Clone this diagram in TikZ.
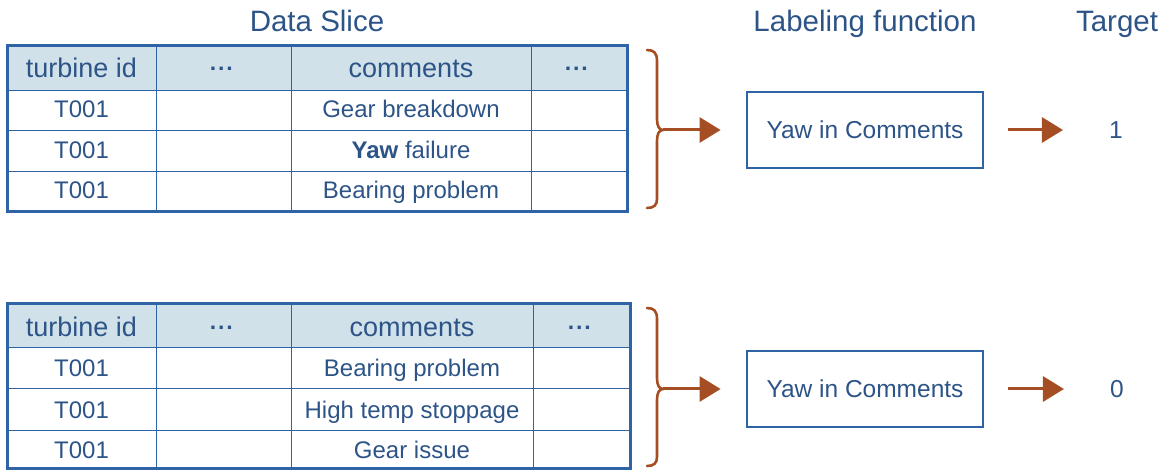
\documentclass[tikz,border=0pt]{standalone}
\usepackage{fontspec}
\setmainfont{Liberation Sans}
\usetikzlibrary{arrows.meta}

\definecolor{ink}{HTML}{2D5487}
\definecolor{rule}{HTML}{2E64A6}
\definecolor{headfill}{HTML}{D0E1EA}
\definecolor{rust}{HTML}{A64E23}

% row of three centred dots used in the header cells
\newcommand{\hdots}{{\fontsize{23}{23}\bfseries\selectfont\raisebox{1pt}{·\kern0.6pt·\kern0.6pt·}}}

\tikzset{
  title/.style={font=\fontsize{29.5}{30}\selectfont, text=ink, anchor=base, inner sep=0pt},
  headtxt/.style={font=\fontsize{27}{28}\selectfont, text=ink, anchor=base, inner sep=0pt},
  celltxt/.style={font=\fontsize{24}{25}\selectfont, text=ink, anchor=base, inner sep=0pt},
  outerrule/.style={draw=rule, line width=3pt},
  innerrule/.style={draw=rule, line width=1pt},
  lfbox/.style={draw=rule, line width=2.8pt, minimum width=236pt, minimum height=76pt,
                inner sep=0pt, font=\fontsize{24.5}{25}\selectfont, text=ink},
  target/.style={font=\fontsize{24.5}{25}\selectfont, text=ink, inner sep=0pt},
  brace/.style={draw=rust, line width=2.6pt, line cap=round},
  flow/.style={draw=rust, line width=3pt, -{Triangle[length=21pt,width=25pt]}},
}

\begin{document}
\begin{tikzpicture}[x=1pt, y=-1pt]
\useasboundingbox (0,0) rectangle (1168,470);

% column titles
\node[title] (ttlslice) at (317,32) {Data Slice};
\node[title] (ttllf) at (865,32) {Labeling function};
\node[title] (ttltarget) at (1117,32) {Target};

% ---------- first data slice ----------
\fill[headfill] (7,46) rectangle (627,91);
\draw[innerrule] (7,91) -- (627,91) (7,131) -- (627,131) (7,172) -- (627,172)
                 (156,46) -- (156,212) (291,46) -- (291,212) (531,46) -- (531,212);
\draw[outerrule] (7,46) rectangle (627,212);

\node[headtxt] (ah1) at (81.5,78) {turbine id};
\node[headtxt] (ah2) at (222,78) {\hdots};
\node[headtxt] (ah3) at (411,78) {comments};
\node[headtxt] (ah4) at (577,78) {\hdots};

\node[celltxt] (ar1a) at (81.5,118) {T001};
\node[celltxt] (ar1c) at (411,118) {Gear breakdown};
\node[celltxt] (ar2a) at (81.5,159) {T001};
\node[celltxt] (ar2c) at (411,159) {{\bfseries Yaw} failure};
\node[celltxt] (ar3a) at (81.5,199) {T001};
\node[celltxt] (ar3c) at (411,199) {Bearing problem};

% ---------- second data slice ----------
\fill[headfill] (7,304) rectangle (630,348);
\draw[innerrule] (7,348) -- (630,348) (7,389) -- (630,389) (7,430) -- (630,430)
                 (156,304) -- (156,468) (291,304) -- (291,468) (533,304) -- (533,468);
\draw[outerrule] (7,304) rectangle (630,468);

\node[headtxt] (bh1) at (81.5,337) {turbine id};
\node[headtxt] (bh2) at (222,337) {\hdots};
\node[headtxt] (bh3) at (412,337) {comments};
\node[headtxt] (bh4) at (580,337) {\hdots};

\node[celltxt] (br1a) at (81.5,377) {T001};
\node[celltxt] (br1c) at (412,377) {Bearing problem};
\node[celltxt] (br2a) at (81.5,418) {T001};
\node[celltxt] (br2c) at (412,418) {High temp stoppage};
\node[celltxt] (br3a) at (81.5,458) {T001};
\node[celltxt] (br3c) at (412,458) {Gear issue};

% ---------- braces ----------
\coordinate (bra) at (663,130);
\draw[brace] (647,50) .. controls (654,50) and (657,53) .. (657,61) -- (657,119)
  .. controls (657,126) and (659,130) .. (bra)
  .. controls (659,130) and (657,134) .. (657,141) -- (657,199)
  .. controls (657,205) and (654,208) .. (647,208);

\coordinate (brb) at (663,389);
\draw[brace] (647,308) .. controls (654,308) and (657,311) .. (657,319) -- (657,378)
  .. controls (657,385) and (659,389) .. (brb)
  .. controls (659,389) and (657,393) .. (657,400) -- (657,457)
  .. controls (657,463) and (654,466) .. (647,466);

% ---------- labeling functions and targets ----------
\node[lfbox] (lfa) at (865,130) {Yaw in Comments};
\node[target] (tga) at (1116,130) {1};
\node[lfbox] (lfb) at (865,389) {Yaw in Comments};
\node[target] (tgb) at (1117,389) {0};

\draw[flow, shorten >=25pt] (bra) -- (lfa);
\draw[flow, shorten <=24pt, shorten >=46pt] (lfa) -- (tga);
\draw[flow, shorten >=25pt] (brb) -- (lfb);
\draw[flow, shorten <=24pt, shorten >=46pt] (lfb) -- (tgb);
\end{tikzpicture}
\end{document}
